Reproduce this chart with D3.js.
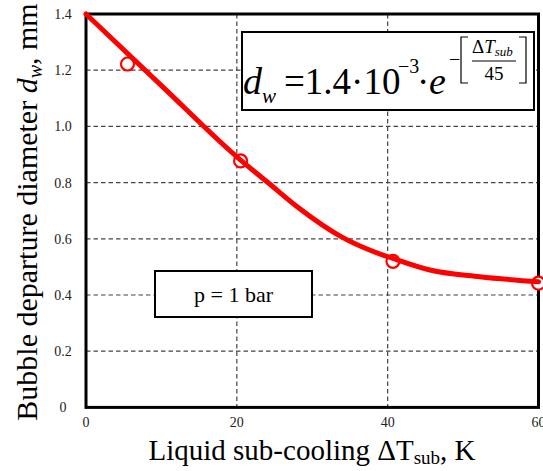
<!DOCTYPE html>
<html>
<head>
<meta charset="utf-8">
<script src="https://cdn.jsdelivr.net/npm/d3@7/dist/d3.min.js"></script>
<style>
  body { margin: 0; background: #fff; }
  svg { display: block; }
</style>
</head>
<body>
<svg id="chart" width="543" height="471" font-family="'Liberation Serif', 'DejaVu Serif', serif"></svg>
<script>
// Measured bubble departure diameters (mm) vs liquid sub-cooling (K)
const subcoolK   = [5.5, 20.5, 40.7, 60];
const diameterMm = [1.222, 0.877, 0.520, 0.442];

// Smoothed trend line through the measurements
const trendK  = [0, 10, 20.5, 24, 28, 34, 37.6, 40.7, 45.6, 52.2, 60];
const trendMm = [1.4, 1.145, 0.88, 0.803, 0.714, 0.605, 0.560, 0.530, 0.489, 0.465, 0.447];

// Axis ticks
const xTicks = [0, 20, 40, 60];
const yTicks = [0, 0.2, 0.4, 0.6, 0.8, 1.0, 1.2, 1.4];
const yTickLabels = ["0", "0.2", "0.4", "0.6", "0.8", "1.0", "1.2", "1.4"];

const svg = d3.select("#chart");
const plotL = 86, plotR = 538.5, plotT = 14, plotB = 407.4;

const x = d3.scaleLinear().domain([0, 60]).range([plotL, plotR]);
const y = d3.scaleLinear().domain([0, 1.4]).range([plotB, plotT]);

// Dashed grid
const grid = svg.append("g").attr("stroke", "#444").attr("stroke-width", 1.2)
  .attr("stroke-dasharray", "4.5,3");
grid.selectAll("line.h").data(yTicks.filter(v => v > 0 && v < 1.4)).join("line")
  .attr("class", "h")
  .attr("x1", plotL).attr("x2", plotR)
  .attr("y1", d => y(d)).attr("y2", d => y(d));
grid.selectAll("line.v").data(xTicks.filter(v => v > 0 && v < 60)).join("line")
  .attr("class", "v")
  .attr("y1", plotT).attr("y2", plotB)
  .attr("x1", d => x(d)).attr("x2", d => x(d));

// Tick labels
svg.append("g").selectAll("text").data(yTicks).join("text")
  .attr("x", 63).attr("y", d => y(d)).attr("dy", "0.35em")
  .attr("text-anchor", "middle").attr("font-size", 14).attr("fill", "#222")
  .text((d, i) => yTickLabels[i]);
svg.append("g").selectAll("text").data(xTicks).join("text")
  .attr("x", d => x(d)).attr("y", 427)
  .attr("text-anchor", "middle").attr("font-size", 14).attr("fill", "#222")
  .text(d => d);

// Text boxes (white fill masks the grid)
function box(x0, y0, x1, y1) {
  svg.append("rect").attr("x", x0).attr("y", y0)
    .attr("width", x1 - x0).attr("height", y1 - y0)
    .attr("fill", "#fff").attr("stroke", "#000").attr("stroke-width", 2);
}
box(242, 32, 534, 110);
box(155, 271, 312, 317);
svg.append("text").attr("x", 233.5).attr("y", 302)
  .attr("text-anchor", "middle").attr("font-size", 22).text("p = 1 bar");

// Correlation formula
const f = svg.append("g").attr("fill", "#000");
f.append("text").attr("x", 243).attr("y", 94).attr("font-size", 38)
  .attr("font-style", "italic").text("d");
f.append("text").attr("x", 262).attr("y", 103).attr("font-size", 21)
  .attr("font-style", "italic").text("w");
f.append("text").attr("x", 284).attr("y", 94).attr("font-size", 37).text("=1.4·10");
f.append("text").attr("x", 398).attr("y", 73).attr("font-size", 20).text("−3");
f.append("text").attr("x", 417).attr("y", 94).attr("font-size", 37).text("·");
f.append("text").attr("x", 429).attr("y", 94).attr("font-size", 38)
  .attr("font-style", "italic").text("e");
f.append("text").attr("x", 449).attr("y", 66).attr("font-size", 20).text("−");
f.append("path").attr("d", "M468,37H461V83H468").attr("fill", "none")
  .attr("stroke", "#000").attr("stroke-width", 1.2);
f.append("path").attr("d", "M519,37H526V83H519").attr("fill", "none")
  .attr("stroke", "#000").attr("stroke-width", 1.2);
const num = f.append("text").attr("x", 472).attr("y", 53).attr("font-size", 19);
num.append("tspan").text("Δ");
num.append("tspan").attr("font-style", "italic").text("T");
num.append("tspan").attr("font-style", "italic").attr("font-size", 13)
  .attr("dy", 3).text("sub");
f.append("line").attr("x1", 472).attr("x2", 516).attr("y1", 61).attr("y2", 61)
  .attr("stroke", "#000").attr("stroke-width", 1);
f.append("text").attr("x", 494).attr("y", 80).attr("font-size", 19)
  .attr("text-anchor", "middle").text("45");

// Frame
svg.append("rect").attr("x", plotL).attr("y", plotT)
  .attr("width", plotR - plotL).attr("height", plotB - plotT)
  .attr("fill", "none").attr("stroke", "#000").attr("stroke-width", 3);

// Measurement markers
svg.append("g").selectAll("circle").data(subcoolK).join("circle")
  .attr("cx", d => x(d)).attr("cy", (d, i) => y(diameterMm[i]))
  .attr("r", 6.5).attr("fill", "#fff").attr("stroke", "#f00").attr("stroke-width", 2.2);

// Trend line
const line = d3.line().x(d => x(d[0])).y(d => y(d[1])).curve(d3.curveMonotoneX);
svg.append("path").datum(trendK.map((k, i) => [k, trendMm[i]]))
  .attr("d", line).attr("fill", "none").attr("stroke", "#f00")
  .attr("stroke-width", 5).attr("stroke-linecap", "round");

// Axis titles
const xt = svg.append("text").attr("x", 312).attr("y", 460)
  .attr("text-anchor", "middle").attr("font-size", 29);
xt.append("tspan").text("Liquid sub-cooling ΔT");
xt.append("tspan").attr("font-size", 19).attr("dy", 4).text("sub");
xt.append("tspan").attr("dy", -4).text(", K");

const yt = svg.append("text").attr("transform", "translate(37,212) rotate(-90)")
  .attr("text-anchor", "middle").attr("font-size", 30);
yt.append("tspan").text("Bubble departure diameter ");
yt.append("tspan").attr("font-style", "italic").text("d");
yt.append("tspan").attr("font-style", "italic").attr("font-size", 20).attr("dy", 5).text("w");
yt.append("tspan").attr("dy", -5).text(", mm");
</script>
</body>
</html>
